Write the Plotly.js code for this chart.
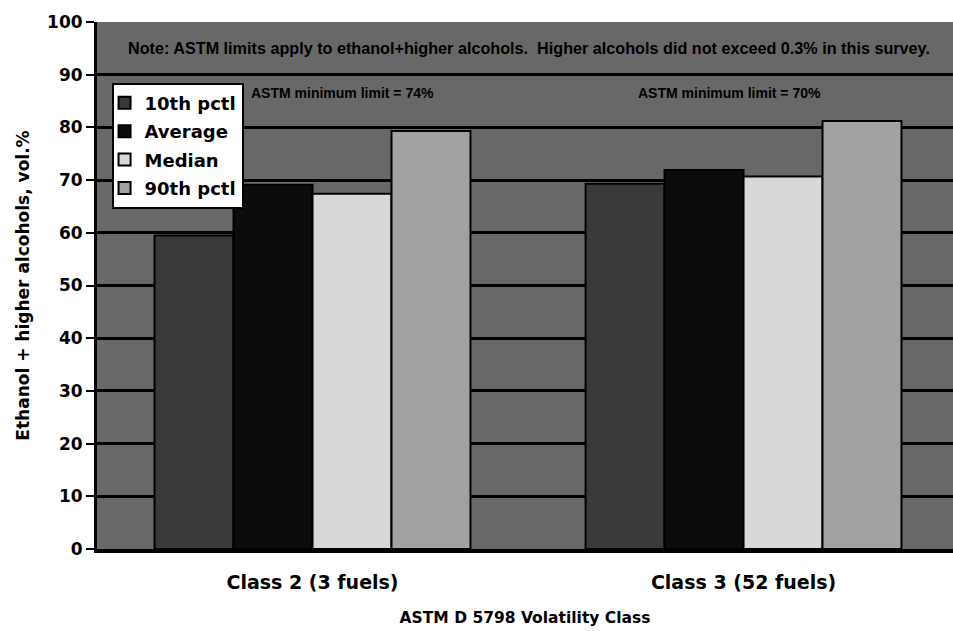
<!DOCTYPE html>
<html>
<head>
<meta charset="utf-8">
<script src="https://cdn.plot.ly/plotly-3.0.1.min.js"></script>
<style>
  html, body { margin: 0; padding: 0; background: #ffffff; }
  #chart { width: 953px; height: 631px; }
</style>
</head>
<body>
<div id="chart"></div>
<script>
// Volatility classes on the x axis
const classes = ['Class 2 (3 fuels)', 'Class 3 (52 fuels)'];

// Ethanol + higher alcohols, vol.% for each statistic
const pctl10 = [59.5, 69.3];
const average = [69.1, 71.9];
const median = [67.4, 70.7];
const pctl90 = [79.3, 81.2];

const seriesNames = ['10th pctl', 'Average', 'Median', '90th pctl'];
const seriesColors = ['#3a3a3a', '#0c0c0c', '#d8d8d8', '#a2a2a2'];
const seriesValues = [pctl10, average, median, pctl90];

const yTicks = [0, 10, 20, 30, 40, 50, 60, 70, 80, 90, 100];

const WIDE = 'DejaVu Sans, Verdana, sans-serif';
const ARIAL = 'Liberation Sans, Arial, sans-serif';

const traces = seriesNames.map((name, i) => ({
  type: 'bar',
  name: name,
  legendgroup: 'g' + i,
  x: classes,
  y: seriesValues[i],
  marker: { color: seriesColors[i], line: { color: '#000000', width: 2 } },
  hoverinfo: 'skip'
}));

const layout = {
  width: 953,
  height: 631,
  margin: { l: 97, r: 0, t: 22, b: 82, pad: 0 },
  paper_bgcolor: '#ffffff',
  plot_bgcolor: '#686868',
  barmode: 'group',
  bargap: 0.267,
  bargroupgap: 0,
  font: { family: ARIAL, color: '#000000' },
  showlegend: true,
  legend: {
    x: 0.017, y: 0.885, xanchor: 'left', yanchor: 'top',
    bgcolor: '#ffffff', bordercolor: '#000000', borderwidth: 2,
    font: { family: WIDE, size: 18, color: '#000000', weight: 'bold' },
    itemwidth: 30, indentation: -9, tracegroupgap: 2, traceorder: 'grouped'
  },
  xaxis: {
    type: 'category',
    range: [-0.5, 1.486],
    showgrid: false,
    showline: true, linecolor: '#000000', linewidth: 4,
    ticks: '', ticklabelstandoff: 13,
    tickfont: { family: WIDE, size: 19, color: '#000000', weight: 'bold' },
    title: {
      text: 'ASTM D 5798 Volatility Class',
      font: { family: WIDE, size: 15.5, color: '#000000', weight: 'bold' },
      standoff: 21
    },
    zeroline: false, fixedrange: true
  },
  yaxis: {
    range: [0, 100],
    tickvals: yTicks,
    ticktext: yTicks.map(String),
    showgrid: true, gridcolor: '#000000', gridwidth: 3,
    showline: true, linecolor: '#000000', linewidth: 3,
    ticks: 'outside', ticklen: 8, tickwidth: 2, tickcolor: '#000000',
    tickfont: { family: WIDE, size: 17, color: '#000000', weight: 'bold' },
    title: {
      text: 'Ethanol + higher alcohols, vol.%',
      font: { family: WIDE, size: 17, color: '#000000', weight: 'bold' },
      standoff: 14
    },
    zeroline: false, fixedrange: true
  },
  annotations: [
    {
      xref: 'paper', yref: 'y', x: 0.505, y: 95, xanchor: 'center', yanchor: 'middle',
      text: 'Note: ASTM limits apply to ethanol+higher alcohols.  Higher alcohols did not exceed 0.3% in this survey.',
      showarrow: false,
      font: { family: ARIAL, size: 16.2, color: '#000000', weight: 'bold' }
    },
    {
      xref: 'paper', yref: 'y', x: 0.178, y: 86.6, xanchor: 'left', yanchor: 'middle',
      text: 'ASTM minimum limit = 74%',
      showarrow: false,
      font: { family: ARIAL, size: 14, color: '#000000', weight: 'bold' }
    },
    {
      xref: 'paper', yref: 'y', x: 0.63, y: 86.6, xanchor: 'left', yanchor: 'middle',
      text: 'ASTM minimum limit = 70%',
      showarrow: false,
      font: { family: ARIAL, size: 14, color: '#000000', weight: 'bold' }
    }
  ]
};

Plotly.newPlot('chart', traces, layout, { displayModeBar: false, staticPlot: true });
</script>
</body>
</html>
